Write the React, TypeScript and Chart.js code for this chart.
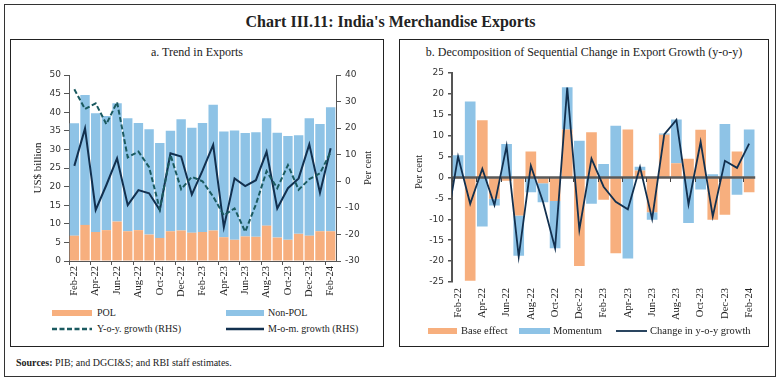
import React, { useEffect, useRef } from 'react';
import { Chart, registerables } from 'chart.js';

Chart.register(...registerables);

// ---------- data ----------
const months = [
  'Feb-22', 'Mar-22', 'Apr-22', 'May-22', 'Jun-22', 'Jul-22', 'Aug-22', 'Sep-22', 'Oct-22', 'Nov-22', 'Dec-22', 'Jan-23',
  'Feb-23', 'Mar-23', 'Apr-23', 'May-23', 'Jun-23', 'Jul-23', 'Aug-23', 'Sep-23', 'Oct-23', 'Nov-23', 'Dec-23', 'Jan-24', 'Feb-24',
];
const labelledIdx = [0, 2, 4, 6, 8, 10, 12, 14, 16, 18, 20, 22, 24];

// Panel a (US$ billion, % growth)
const polExports = [6.8, 9.7, 7.8, 8.3, 10.6, 8.0, 8.3, 7.1, 6.2, 8.0, 8.2, 7.6, 7.8, 8.2, 6.4, 5.7, 6.6, 6.5, 9.5, 6.3, 5.7, 7.3, 6.8, 8.0, 8.0];
const nonPolExports = [30.2, 34.9, 31.9, 30.7, 31.8, 30.4, 28.8, 28.3, 25.5, 27.0, 29.9, 28.2, 29.3, 33.8, 28.4, 29.4, 27.8, 28.1, 28.9, 28.2, 27.9, 26.5, 31.6, 28.8, 33.3];
const yoyGrowth = [34.6, 27.2, 29.3, 21.5, 29.8, 9.0, 11.2, 5.3, -10.5, 10.0, -3.0, 1.7, 0.0, -5.8, -12.8, -10.2, -19.0, -8.7, 3.8, -2.6, 6.1, -3.2, 0.8, 3.0, 11.0];
const momGrowth = [5.8, 19.9, -10.8, -1.4, 8.6, -9.0, -3.3, -4.5, -10.8, 10.5, 9.3, -5.0, 4.0, 13.7, -17.3, 1.1, -1.8, 0.4, 11.1, -10.2, -2.6, 1.1, 13.9, -4.3, 12.4];

// Panel b (per cent)
const baseEffect = [-0.3, -24.7, 13.7, -5.1, -0.8, -9.1, 6.2, -1.4, -5.6, 11.5, -21.2, 10.8, -5.3, -18.1, 11.5, 1.7, -8.3, 10.2, 3.4, 4.5, 11.4, -10.1, -8.9, 6.2, -3.5];
const momentum = [5.3, 18.2, -11.7, -1.6, 8.0, -9.6, -3.5, -4.5, -11.3, 10.1, 8.8, -6.3, 3.2, 12.4, -19.4, 0.9, -1.8, 0.3, 10.5, -10.9, -2.9, 0.8, 12.8, -4.1, 11.5];
// first value is Jan-22 (just outside the plotted window, clipped at the axis)
const changeInYoy = [-12.0, 5.0, -6.3, 2.1, -6.6, 7.5, -18.9, 2.8, -5.8, -16.9, 21.5, -12.5, 4.5, -2.2, -5.8, -7.6, 2.5, -9.9, 10.3, 13.8, -6.4, 8.5, -9.3, 4.0, 2.3, 8.1];

// ---------- style ----------
const ORANGE = '#F7AF7E';
const BLUE = '#8EC3E6';
const TEAL = '#1B5A60';
const NAVY = '#12304F';
const AXIS = '#555555';
const SERIF = "'Liberation Serif', 'DejaVu Serif', serif";
const SANS = "'DejaVu Sans', sans-serif";
const tickFont = { family: SANS, size: 9 };
const xLabelFont = { family: SERIF, size: 10.5 };

function LeftChart() {
  const ref = useRef<HTMLCanvasElement>(null);
  useEffect(() => {
    const chart = new Chart(ref.current as HTMLCanvasElement, {
      type: 'bar',
      data: {
        labels: months,
        datasets: [
          {
            type: 'line', label: 'Y-o-y. growth (RHS)', data: yoyGrowth, yAxisID: 'y1',
            borderColor: TEAL, borderWidth: 2, borderDash: [5, 2.5], pointRadius: 0, tension: 0, order: 0,
          } as any,
          {
            type: 'line', label: 'M-o-m. growth (RHS)', data: momGrowth, yAxisID: 'y1',
            borderColor: NAVY, borderWidth: 2, pointRadius: 0, tension: 0, order: 0,
          } as any,
          {
            label: 'POL', data: polExports, backgroundColor: ORANGE, yAxisID: 'y',
            barPercentage: 0.88, categoryPercentage: 1, order: 1,
          },
          {
            label: 'Non-POL', data: nonPolExports, backgroundColor: BLUE, yAxisID: 'y',
            barPercentage: 0.88, categoryPercentage: 1, order: 1,
          },
        ],
      },
      options: {
        animation: false,
        responsive: false,
        maintainAspectRatio: false,
        layout: { padding: { top: 15, left: 0, right: 0, bottom: 0 } },
        plugins: { legend: { display: false }, tooltip: { enabled: false } },
        scales: {
          x: {
            stacked: true,
            offset: true,
            grid: {
              offset: true, drawOnChartArea: false, drawTicks: true, tickLength: 4,
              color: (c: any) => (c.index % 2 === 0 ? AXIS : 'rgba(0,0,0,0)'),
            },
            border: { color: AXIS, width: 1 },
            ticks: {
              autoSkip: false, maxRotation: 90, minRotation: 90, padding: 1, color: '#222', font: xLabelFont,
              callback: (_v: any, i: number) => (i % 2 === 0 ? months[i] : ''),
            },
            afterFit: (s: any) => { s.height = 44; },
          },
          y: {
            stacked: true, min: 0, max: 50,
            ticks: { stepSize: 5, color: '#333', font: tickFont, padding: 3 },
            grid: { drawOnChartArea: false, tickLength: 5, color: AXIS },
            border: { color: AXIS, width: 1 },
            afterFit: (s: any) => { s.width = 59; },
          },
          y1: {
            position: 'right', min: -30, max: 40,
            ticks: { stepSize: 10, color: '#333', font: tickFont, padding: 4 },
            grid: { drawOnChartArea: false, tickLength: 5, color: AXIS },
            border: { color: AXIS, width: 1 },
            afterFit: (s: any) => { s.width = 47; },
          },
        },
      } as any,
    });
    return () => chart.destroy();
  }, []);
  return (
    <canvas ref={ref} width={373} height={245}
      style={{ position: 'absolute', left: 10, top: 60, width: 373, height: 245 }} />
  );
}

const zeroLinePlugin = {
  id: 'zeroLine',
  beforeDatasetDraw(chart: any, args: any) {
    const ds = chart.data.datasets[args.index];
    if (ds.type !== 'line') return;
    const { ctx, chartArea, scales } = chart;
    const y0 = scales.y.getPixelForValue(0);
    ctx.save();
    ctx.strokeStyle = '#595959';
    ctx.lineWidth = 2.5;
    ctx.beginPath();
    ctx.moveTo(chartArea.left, y0);
    ctx.lineTo(chartArea.right, y0);
    ctx.stroke();
    ctx.lineWidth = 1;
    ctx.strokeStyle = '#444';
    labelledIdx.forEach((i) => {
      const x = Math.round(scales.x.getPixelForValue(i - 0.5)) + 0.5;
      ctx.beginPath();
      ctx.moveTo(x, y0);
      ctx.lineTo(x, y0 + 4.5);
      ctx.stroke();
    });
    ctx.restore();
  },
};

function RightChart() {
  const ref = useRef<HTMLCanvasElement>(null);
  useEffect(() => {
    const chart = new Chart(ref.current as HTMLCanvasElement, {
      type: 'bar',
      data: {
        datasets: [
          {
            type: 'line', label: 'Change in y-o-y growth',
            data: changeInYoy.map((v, i) => ({ x: i - 1, y: v })),
            borderColor: NAVY, borderWidth: 1.8, pointRadius: 0, tension: 0, order: 0, clip: 0,
          } as any,
          {
            label: 'Base effect', data: baseEffect.map((v, i) => ({ x: i, y: v })),
            backgroundColor: ORANGE, barPercentage: 0.88, categoryPercentage: 1, order: 1,
          } as any,
          {
            label: 'Momentum', data: momentum.map((v, i) => ({ x: i, y: v })),
            backgroundColor: BLUE, barPercentage: 0.88, categoryPercentage: 1, order: 1,
          } as any,
        ],
      },
      options: {
        animation: false,
        responsive: false,
        maintainAspectRatio: false,
        layout: { padding: { top: 13, left: 0, right: 12, bottom: 0 } },
        plugins: { legend: { display: false }, tooltip: { enabled: false } },
        scales: {
          x: {
            type: 'linear', min: -0.5, max: 24.5, offset: false, stacked: true,
            afterBuildTicks: (s: any) => { s.ticks = labelledIdx.map((v) => ({ value: v })); },
            ticks: {
              autoSkip: false, maxRotation: 90, minRotation: 90, padding: 6, color: '#222', font: xLabelFont,
              callback: (v: any) => months[v] ?? '',
            },
            grid: { display: false, drawTicks: false, offset: false },
            border: { display: false },
            afterFit: (s: any) => { s.height = 43; },
          },
          y: {
            stacked: true, min: -25, max: 25,
            ticks: { stepSize: 5, color: '#333', font: tickFont, padding: 4 },
            grid: { drawOnChartArea: false, tickLength: 4, color: AXIS, lineWidth: 1.5 },
            border: { color: AXIS, width: 2 },
            afterFit: (s: any) => { s.width = 53; },
          },
        },
      } as any,
      plugins: [zeroLinePlugin],
    });
    return () => chart.destroy();
  }, []);
  return (
    <canvas ref={ref} width={369} height={265}
      style={{ position: 'absolute', left: 399, top: 60, width: 369, height: 265 }} />
  );
}

const txt = (size: number, extra: any = {}): any => ({
  position: 'absolute', fontFamily: SERIF, fontSize: size, color: '#222', whiteSpace: 'nowrap', lineHeight: '14px', ...extra,
});

function VText({ text, cx, cy, size }: { text: string; cx: number; cy: number; size: number }) {
  return (
    <div style={txt(size, { left: cx, top: cy, transform: 'translate(-50%, -50%) rotate(-90deg)' })}>{text}</div>
  );
}

function Box({ x, y, w, h, color }: any) {
  return <div style={{ position: 'absolute', left: x, top: y, width: w, height: h, background: color }} />;
}

function LineSwatch({ x, y, w, color, dash, width }: any) {
  return (
    <svg style={{ position: 'absolute', left: x, top: y - 3, width: w, height: 6 }} width={w} height={6}>
      <line x1={0} y1={3} x2={w} y2={3} stroke={color} strokeWidth={width} strokeDasharray={dash} />
    </svg>
  );
}

function Label({ x, cy, text, size }: any) {
  return <div style={txt(size, { left: x, top: cy - 7 })}>{text}</div>;
}

export default function App() {
  return (
    <div style={{ position: 'fixed', left: 0, top: 0, width: 781, height: 381, background: '#fff', overflow: 'hidden' }}>
      {/* outer frame */}
      <div style={{ position: 'absolute', left: 4, top: 4, width: 772, height: 373, border: '1px solid #333', boxSizing: 'border-box' }} />
      {/* main title */}
      <div style={txt(16, { left: 0, width: 781, top: 13, textAlign: 'center', fontWeight: 'bold', lineHeight: '18px' })}>
        Chart III.11: India's Merchandise Exports
      </div>
      {/* panels */}
      <div style={{ position: 'absolute', left: 10, top: 39, width: 374, height: 308, border: '1px solid #222', boxSizing: 'border-box' }} />
      <div style={{ position: 'absolute', left: 399, top: 39, width: 370, height: 308, border: '1px solid #222', boxSizing: 'border-box' }} />
      <div style={txt(12, { left: 10, width: 374, top: 45, textAlign: 'center' })}>a. Trend in Exports</div>
      <div style={txt(12, { left: 399, width: 370, top: 45, textAlign: 'center' })}>
        b. Decomposition of Sequential Change in Export Growth (y-o-y)
      </div>

      <LeftChart />
      <RightChart />

      {/* axis titles */}
      <VText text="US$ billion" cx={37} cy={168} size={11} />
      <VText text="Per cent" cx={368} cy={168} size={10.5} />
      <VText text="Per cent" cx={419} cy={172} size={10.5} />

      {/* legend a */}
      <Box x={52} y={310} w={40} h={6} color={ORANGE} />
      <Label x={97} cy={313} text="POL" size={10} />
      <Box x={226} y={310} w={38} h={6} color={BLUE} />
      <Label x={268} cy={313} text="Non-POL" size={10} />
      <LineSwatch x={52} y={329} w={40} color={TEAL} dash="5 2.5" width={2.5} />
      <Label x={97} cy={329} text="Y-o-y. growth (RHS)" size={10} />
      <LineSwatch x={226} y={329} w={38} color={NAVY} width={2.5} />
      <Label x={268} cy={329} text="M-o-m. growth (RHS)" size={10} />

      {/* legend b */}
      <Box x={428} y={328} w={29} h={6} color={ORANGE} />
      <Label x={461} cy={331} text="Base effect" size={10.5} />
      <Box x={519} y={328} w={31} h={6} color={BLUE} />
      <Label x={553} cy={331} text="Momentum" size={10.5} />
      <LineSwatch x={616} y={331} w={31} color={NAVY} width={1.8} />
      <Label x={650} cy={331} text="Change in y-o-y growth" size={10.5} />

      {/* sources */}
      <div style={txt(10, { left: 16, top: 356 })}>
        <b>Sources:</b> PIB; and DGCI&amp;S; and RBI staff estimates.
      </div>
    </div>
  );
}
